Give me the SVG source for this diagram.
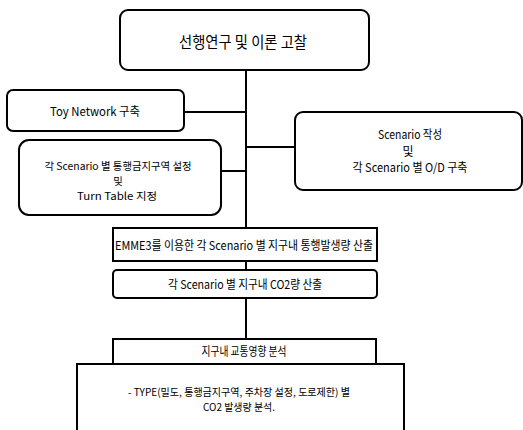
<svg xmlns="http://www.w3.org/2000/svg" width="523" height="430" viewBox="0 0 523 430">
<style>
.bx{fill:#fff;stroke:#000;stroke-width:2}
.ln{stroke:#000;stroke-width:2;fill:none}
text{font-family:"Noto Sans CJK KR","Noto Sans",sans-serif;font-size:12px;fill:#000;text-anchor:middle}
.t{font-size:16px}
.s{font-size:10.4px}
</style>
<rect width="523" height="430" fill="#fff"/>
<g id="connectors">
<line class="ln" x1="246" y1="70" x2="246" y2="228"/>
<line class="ln" x1="246" y1="261" x2="246" y2="270"/>
<line class="ln" x1="246" y1="298" x2="246" y2="339"/>
<line class="ln" x1="184" y1="112" x2="246" y2="112"/>
<line class="ln" x1="221" y1="171" x2="246" y2="171"/>
<line class="ln" x1="246" y1="147" x2="295" y2="147"/>
</g>
<g id="n1">
<rect class="bx" x="120" y="10" width="249" height="60" rx="8"/>
<text class="t" x="243" y="48" textLength="128" lengthAdjust="spacingAndGlyphs">선행연구 및 이론 고찰</text>
</g>
<g id="n2">
<rect class="bx" x="7" y="90" width="177" height="41" rx="6"/>
<text x="95" y="116" textLength="90" lengthAdjust="spacingAndGlyphs">Toy Network 구축</text>
</g>
<g id="n3">
<rect class="bx" x="19" y="140" width="202" height="75" rx="10"/>
<text class="s" x="118" y="170" textLength="147" lengthAdjust="spacingAndGlyphs">각 Scenario 별 통행금지구역 설정</text>
<text class="s" x="118" y="185">및</text>
<text class="s" x="117" y="200" textLength="80" lengthAdjust="spacingAndGlyphs">Turn Table 지정</text>
</g>
<g id="n4">
<rect class="bx" x="295" y="112" width="227" height="78" rx="8"/>
<text x="410" y="139" textLength="64" lengthAdjust="spacingAndGlyphs">Scenario 작성</text>
<text x="408" y="156">및</text>
<text x="410" y="172" textLength="115" lengthAdjust="spacingAndGlyphs">각 Scenario 별 O/D  구축</text>
</g>
<g id="n5">
<rect class="bx" x="113" y="228" width="264" height="33"/>
<text x="244" y="250" textLength="258" lengthAdjust="spacingAndGlyphs">EMME3를 이용한  각 Scenario 별 지구내 통행발생량 산출</text>
</g>
<g id="n6">
<rect class="bx" x="113" y="270" width="264" height="28" rx="4"/>
<text x="245" y="289" textLength="154" lengthAdjust="spacingAndGlyphs">각 Scenario 별 지구내 CO2량 산출</text>
</g>
<g id="n7">
<rect class="bx" x="113" y="339" width="263" height="25"/>
<text x="244" y="356" textLength="85" lengthAdjust="spacingAndGlyphs">지구내 교통영향 분석</text>
</g>
<g id="n8">
<rect class="bx" x="77" y="364" width="327" height="80"/>
<text class="s" x="239" y="396" textLength="222" lengthAdjust="spacingAndGlyphs">- TYPE(밀도, 통행금지구역, 주차장 설정, 도로제한) 별</text>
<text class="s" x="239" y="411" textLength="72" lengthAdjust="spacingAndGlyphs">CO2 발생량 분석.</text>
</g>
</svg>
